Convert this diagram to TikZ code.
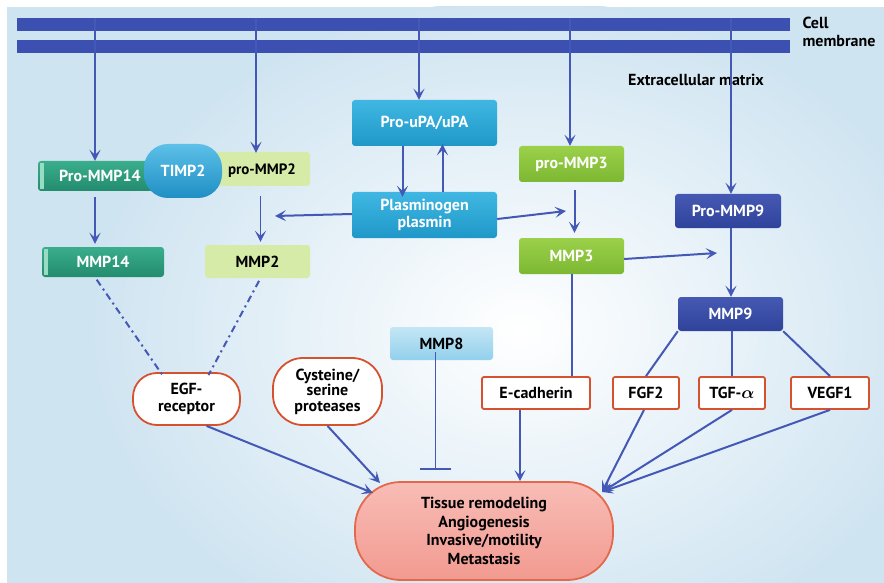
\documentclass[tikz,border=0pt]{standalone}
\usepackage{amsmath}
\usepackage{fontspec}
\setmainfont{PT Sans}
\usetikzlibrary{arrows.meta,shapes.geometric}
\definecolor{bgblue}{HTML}{CFE4F1}
\definecolor{memblue}{HTML}{3B50B0}
\definecolor{arrowblue}{HTML}{4458B6}
\definecolor{tealA}{HTML}{3AAE8C}
\definecolor{tealB}{HTML}{238C6E}
\definecolor{tealS}{HTML}{9ADBC4}
\definecolor{timpA}{HTML}{5CC0E8}
\definecolor{timpB}{HTML}{1F8FC4}
\definecolor{lgreen}{HTML}{D6EBA8}
\definecolor{cyanA}{HTML}{40B7E2}
\definecolor{cyanB}{HTML}{1F98C9}
\definecolor{greenA}{HTML}{9BD04A}
\definecolor{greenB}{HTML}{7DB832}
\definecolor{dblueA}{HTML}{4559B3}
\definecolor{dblueB}{HTML}{30439B}
\definecolor{redb}{HTML}{D6522F}
\definecolor{tisA}{HTML}{F8BDB6}
\definecolor{tisB}{HTML}{F29A90}
\definecolor{tisD}{HTML}{E4694B}
\definecolor{mmp8A}{HTML}{C4E6F5}
\definecolor{mmp8B}{HTML}{92D0EC}
\tikzset{
  every node/.style={font=\fontsize{16}{18.5}\selectfont\bfseries},
  box/.style={rectangle, rounded corners=3pt, inner sep=0pt, align=center},
  tealbox/.style={box, top color=tealA, bottom color=tealB, text=white},
  lgbox/.style={box, fill=lgreen, text=black},
  cyanbox/.style={box, top color=cyanA, bottom color=cyanB, text=white},
  greenbox/.style={box, top color=greenA, bottom color=greenB, text=white},
  dbluebox/.style={box, top color=dblueA, bottom color=dblueB, text=white},
  redbox/.style={box, rounded corners=2pt, fill=white, draw=redb, line width=1.8pt, text=black},
  pill/.style={redbox, rounded corners=24pt},
  conn/.style={draw=arrowblue, line width=2pt},
  arr/.style={conn, -{Stealth[length=11pt,width=11pt,inset=5pt]}},
  dashdot/.style={conn, dash pattern=on 7pt off 4pt on 2pt off 4pt},
  membar/.style={rectangle, fill=memblue, inner sep=0pt, minimum width=773pt, minimum height=13pt}
}
\begin{document}
\begin{tikzpicture}[x=1pt,y=-1pt]
\useasboundingbox (0,0) rectangle (884,583);
\fill[white] (0,0) rectangle (884,583);
% background
\begin{scope}
\clip (7,7) rectangle (884,583);
\fill[bgblue] (7,7) rectangle (884,583);
\shade[inner color=white, outer color=bgblue] (520,330) ellipse (430 and 330);
\end{scope}
% membrane
\node[membar] (bar1) at (403.5,24.5) {};
\node[membar] (bar2) at (403.5,46.5) {};
\node[anchor=west, align=left, text=black] (cell) at (799,32) {Cell\\[-1pt]membrane};
\node[text=black] (ecm) at (696,80) {Extracellular matrix};
% nodes
\node[tealbox, minimum width=122pt, minimum height=30pt] (promm14) at (99,176) {};
\fill[tealS] (40,163) rectangle (43.5,189);
\node[text=white] (promm14t) at (100,176) {Pro-MMP14};
\node[lgbox, minimum width=105pt, minimum height=34pt] (promm2) at (257.5,169) {};
\node[text=black, font=\fontsize{15}{18}\selectfont\bfseries] (promm2t) at (262,171) {pro-MMP2};
\node[box, rounded corners=24pt, top color=timpA, bottom color=timpB, text=white, minimum width=78pt, minimum height=54pt] (timp2) at (183,171) {TIMP2};
\node[tealbox, minimum width=122pt, minimum height=30pt] (mmp14) at (103,262) {MMP14};
\fill[tealS] (44,249) rectangle (47.5,275);
\node[lgbox, minimum width=105pt, minimum height=33pt] (mmp2) at (257.5,261.5) {MMP2};
\node[cyanbox, minimum width=145pt, minimum height=46pt] (proupa) at (424.5,123) {Pro-uPA/uPA};
\node[cyanbox, minimum width=145pt, minimum height=46pt] (plasm) at (424.5,215) {Plasminogen\\[-2pt]plasmin};
\node[greenbox, minimum width=105pt, minimum height=36pt] (prommp3) at (571.5,164) {pro-MMP3};
\node[greenbox, minimum width=105pt, minimum height=36pt] (mmp3) at (571.5,256) {MMP3};
\node[dbluebox, minimum width=106pt, minimum height=34pt] (prommp9) at (728,211) {Pro-MMP9};
\node[dbluebox, minimum width=105pt, minimum height=34pt] (mmp9) at (730.5,314) {MMP9};
\node[box, top color=mmp8A, bottom color=mmp8B, text=black, minimum width=103pt, minimum height=33pt] (mmp8) at (441.5,343.5) {MMP8};
\node[pill, minimum width=107pt, minimum height=52pt] (egf) at (186.5,399) {EGF-\\[-2pt]receptor};
\node[pill, rounded corners=30pt, minimum width=109pt, minimum height=67pt] (cys) at (327.5,391.5) {Cysteine/\\[-3pt]serine\\[-3pt]proteases};
\node[redbox, minimum width=108pt, minimum height=32pt] (ecad) at (536,393) {E-cadherin};
\node[redbox, minimum width=66pt, minimum height=32pt] (fgf2) at (646,393) {FGF2};
\node[redbox, minimum width=66pt, minimum height=32pt] (tgf) at (732,393) {TGF-$\boldsymbol{\alpha}$};
\node[redbox, minimum width=78pt, minimum height=32pt] (vegf) at (830,393) {VEGF1};
\node[box, rounded corners=46pt, top color=tisA, bottom color=tisB, draw=tisD, line width=1.8pt, text=black, minimum width=258pt, minimum height=98pt] (tissue) at (484,531) {Tissue remodeling\\Angiogenesis\\Invasive/motility\\Metastasis};
% coordinates
\coordinate (m1) at (95,18);
\coordinate (m2) at (256,18);
\coordinate (m3) at (419,18);
\coordinate (m4) at (570,18);
\coordinate (m5) at (731,18);
\coordinate (plL) at (275,216);
\coordinate (plR) at (566,211);
\coordinate (m3R) at (717,253);
\coordinate (tip) at (602,492);
\coordinate (egfT) at (373,493);
\coordinate (cysT) at (380,483);
% membrane arrows
\draw[arr] (m1) -- (m1 |- promm14.north);
\draw[arr] (m2) -- ([yshift=-1pt]m2 |- promm2.north);
\draw[arr] (m3) -- (m3 |- proupa.north);
\draw[arr] (m4) -- (m4 |- prommp3.north);
\draw[arr] (m5) -- (m5 |- prommp9.north);
% internal arrows
\draw[arr, shorten <=6pt, shorten >=3pt] (promm14.south -| m1) -- (mmp14.north -| m1);
\draw[arr, line width=1.2pt, shorten <=10pt, shorten >=3pt] ([xshift=3pt]promm2.south) -- ([xshift=3pt]mmp2.north);
\draw[arr] ([xshift=-22pt]proupa.south) -- ([xshift=-22pt,yshift=-5pt]plasm.north);
\draw[arr] ([xshift=18pt]plasm.north) -- ([xshift=18pt,yshift=2pt]proupa.south);
\draw[arr] ([yshift=1pt]plasm.west) -- (plL);
\draw[arr] ([yshift=-4pt]plasm.east) -- (plR);
\draw[arr, shorten <=8pt, shorten >=5pt] ([xshift=3pt]prommp3.south) -- ([xshift=3pt]mmp3.north);
\draw[arr] ([yshift=-3pt]mmp3.east) -- (m3R);
\draw[arr] (m5 |- prommp9.south) -- (m5 |- mmp9.north);
% lines
\draw[conn] (mmp3.south) -- (mmp3.south |- ecad.north);
\draw[conn] (mmp9.south west) -- (fgf2.north);
\draw[conn] (tgf.north |- mmp9.south) -- (tgf.north);
\draw[conn] (mmp9.south east) -- (vegf.north);
\draw[dashdot, shorten <=3pt] (mmp14.south -| m1) -- ([xshift=-24pt,yshift=-3pt]egf.north);
\draw[dashdot, shorten <=3pt] ([xshift=3pt]mmp2.south) -- ([xshift=22pt,yshift=-3pt]egf.north);
% to tissue
\draw[arr] ([xshift=-16pt]ecad.south) -- ([xshift=-16pt]ecad.south |- tissue.north);
\draw[arr] ([xshift=-2pt]fgf2.south) -- (tip);
\draw[arr] (tgf.south) -- (tip);
\draw[arr] (vegf.south) -- (tip);
\draw[arr] ([xshift=20pt]egf.south) -- (egfT);
\draw[arr] (cys.south) -- (cysT);
\draw[conn, -{Bar[width=31pt,line width=2pt]}, line width=1.5pt] ([xshift=-6pt,yshift=8pt]mmp8.south) -- ([xshift=-6pt]mmp8.south |- 0,470);
\end{tikzpicture}
\end{document}
